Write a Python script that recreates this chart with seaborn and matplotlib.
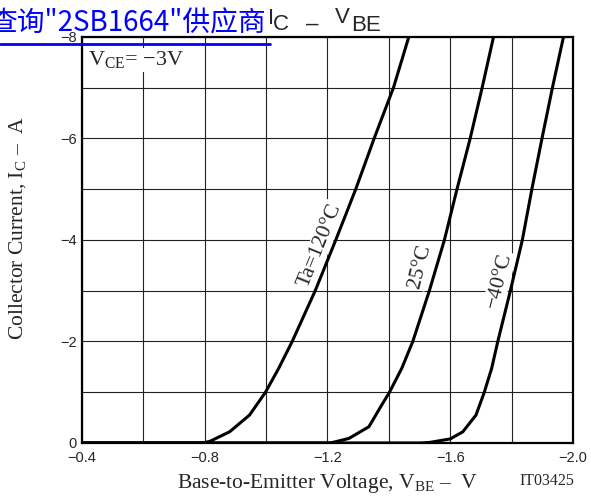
import numpy as np
import pandas as pd
import matplotlib
matplotlib.use("Agg")
import matplotlib.pyplot as plt
import seaborn as sns
from matplotlib.lines import Line2D

# curve data (V_BE in V, I_C in A)
vbe_120 = [-0.40, -0.79, -0.816, -0.881, -0.946, -0.998, -1.041, -1.085, -1.160, -1.227,
           -1.292, -1.352, -1.415, -1.465]
ic_120 = [0.0, 0.0, -0.03, -0.22, -0.55, -1.00, -1.47, -2.0, -3.0, -4.0,
          -5.0, -6.0, -7.0, -8.0]

vbe_25 = [-0.40, -1.21, -1.27, -1.335, -1.37, -1.402, -1.442, -1.478, -1.532, -1.581,
          -1.622, -1.665, -1.704, -1.741]
ic_25 = [0.0, 0.0, -0.09, -0.32, -0.68, -1.00, -1.47, -2.0, -3.0, -4.0,
         -5.0, -6.0, -7.0, -8.0]

vbe_m40 = [-0.40, -1.50, -1.532, -1.60, -1.641, -1.684, -1.711, -1.735, -1.755, -1.796,
           -1.835, -1.866, -1.899, -1.933, -1.969]
ic_m40 = [0.0, 0.0, -0.01, -0.08, -0.22, -0.55, -1.00, -1.47, -2.0, -3.0,
          -4.0, -5.0, -6.0, -7.0, -8.0]

temps = ["Ta=120°C", "25°C", "−40°C"]
x_ticks = [-0.4, -0.8, -1.2, -1.6, -2.0]
y_ticks = [0, -2, -4, -6, -8]

df = pd.concat([
    pd.DataFrame({"vbe": vbe_120, "ic": ic_120, "temp": temps[0]}),
    pd.DataFrame({"vbe": vbe_25, "ic": ic_25, "temp": temps[1]}),
    pd.DataFrame({"vbe": vbe_m40, "ic": ic_m40, "temp": temps[2]}),
])

sns.set_style("white")
plt.rcParams["font.family"] = ["Liberation Serif", "DejaVu Serif"]
plt.rcParams["mathtext.fontset"] = "custom"
plt.rcParams["mathtext.rm"] = "Liberation Serif"

fig = plt.figure(figsize=(5.91, 4.97), dpi=100)
ax = fig.add_axes([0.1387, 0.1087, 0.8308, 0.8169])

sns.lineplot(data=df, x="vbe", y="ic", hue="temp", units="temp", estimator=None,
             sort=False, palette=["black"] * 3, legend=False, linewidth=2.2, ax=ax)
for ln in ax.lines:
    ln.set_solid_joinstyle("round")

ax.set_xlim(-0.4, -2.0)
ax.set_ylim(0, -8)
ax.set_xticks(x_ticks)
ax.set_xticks(np.arange(-0.4, -2.01, -0.2), minor=True)
ax.set_yticks(y_ticks)
ax.set_yticks(np.arange(0, -8.01, -1), minor=True)
ax.set_xticklabels([f"{v:.1f}".replace("-", "−") for v in x_ticks], family="Liberation Sans", fontsize=10.5)
ax.set_yticklabels([f"{v:d}".replace("-", "−") for v in y_ticks], family="Liberation Sans", fontsize=10.5)
ax.tick_params(which="both", length=0)
ax.tick_params(axis="x", pad=6)
ax.tick_params(axis="y", pad=4)
ax.grid(which="both", color="#222222", linewidth=0.8)
ax.set_axisbelow(True)
for s in ax.spines.values():
    s.set_linewidth(1.6)
    s.set_color("black")

ax.set_xlabel("Base-to-Emitter Voltage, V$_{\\mathrm{BE}}$ \u2013  V", fontsize=15.5, labelpad=5)
ax.set_ylabel("Collector Current, I$_{\\mathrm{C}}$ \u2013  A", fontsize=15.5)
ax.yaxis.set_label_coords(-0.108, 0.53)

bb = dict(facecolor="white", edgecolor="none", pad=1)
ax.text(-0.42, -7.55, "V$_{\\mathrm{CE}}$= \u22123V", fontsize=16, ha="left", va="center", bbox=bb)
ax.text(-1.175, -3.9, temps[0], rotation=68, fontsize=15.5, ha="center", va="center", bbox=bb)
ax.text(-1.50, -3.48, temps[1], rotation=76, fontsize=15.5, ha="center", va="center", bbox=bb)
ax.text(-1.76, -3.2, temps[2], rotation=76, fontsize=15.5, ha="center", va="center", bbox=bb)

fig.text(519 / 591, 1 - 485 / 497, "IT03425", fontsize=11.5, ha="left", va="baseline")

# title, with the raised leading letters as in the reference
sans = "Liberation Sans"
fig.text(268 / 591, 1 - 24 / 497, "I", family=sans, fontsize=16, va="baseline")
fig.text(273 / 591, 1 - 30 / 497, "C", family=sans, fontsize=16, va="baseline")
fig.text(306 / 591, 1 - 30 / 497, "\u2013", family=sans, fontsize=16, va="baseline")
fig.text(335 / 591, 1 - 23 / 497, "V", family=sans, fontsize=16, va="baseline")
fig.text(351 / 591, 1 - 31 / 497, "BE", family=sans, fontsize=16, va="baseline")

# overlaid blue link text
fig.text(-10 / 591, 1 - 32 / 497, "查询\"2SB1664\"供应商", color="#0000ff", fontsize=20,
         family=["Noto Sans CJK SC", "DejaVu Sans"], va="baseline")
fig.add_artist(Line2D([0, 270 / 591], [1 - 44 / 497, 1 - 44 / 497], color="#0000ff", linewidth=2,
                      transform=fig.transFigure))

fig.savefig("out.png", dpi=100)
